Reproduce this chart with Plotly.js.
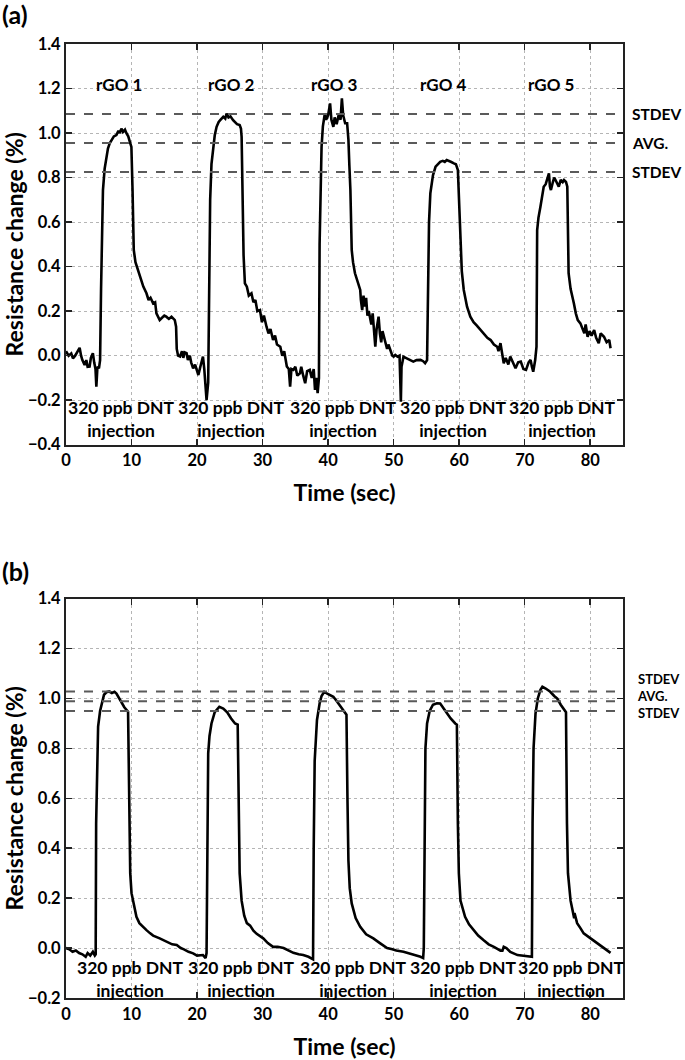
<!DOCTYPE html>
<html>
<head>
<meta charset="utf-8">
<script src="https://cdn.plot.ly/plotly-3.0.1.min.js"></script>
<style>
html,body{margin:0;padding:0;background:#fff;}
#chart{width:685px;height:1060px;}
</style>
</head>
<body>
<div id="chart"></div>
<script>
// ---------- Panel (a): rGO sensors 1-5 ----------
const timeA = [0,0.4,0.8,1.06,1.4,1.7,2.08,2.3,2.5,2.84,3.1,3.3,3.6,3.8,4.1,4.3,4.5,4.63,4.8,5.03,5.2,
5.35,5.5,5.64,5.9,6.16,6.4,6.67,7.0,7.3,7.69,8.0,8.2,8.45,8.7,9.0,9.22,9.5,9.8,9.98,
10.15,10.34,10.6,11.0,11.4,11.8,12.28,12.6,12.9,13.3,13.6,13.8,14.3,14.6,15.0,15.3,15.7,16.1,16.6,16.8,16.9,
17.1,17.4,17.7,17.9,18.1,18.4,18.6,18.9,19.1,19.4,19.7,20.0,20.2,20.5,20.9,21.1,21.45,21.7,
21.85,22.0,22.2,22.46,22.7,22.98,23.3,23.6,24.0,24.3,24.5,24.8,25.1,25.5,25.8,26.1,26.5,26.7,26.8,
26.95,27.1,27.3,27.6,27.9,28.3,28.6,28.9,29.2,29.6,29.9,30.2,30.6,30.9,31.2,31.6,31.9,32.2,32.7,33.0,33.3,33.7,34.0,34.2,34.4,34.7,35.0,35.3,35.7,35.9,36.2,36.5,36.8,37.2,37.5,37.8,38.0,38.2,38.4,38.6,
38.7,38.85,39.0,39.2,39.5,39.7,40.0,40.3,40.5,40.8,41.0,41.3,41.6,41.9,42.1,42.3,42.6,42.9,43.1,43.25,43.4,43.6,43.8,44.1,44.5,44.9,45.0,45.2,45.4,45.6,45.8,46.0,46.2,46.4,46.6,46.8,47.0,47.2,47.4,47.7,47.9,48.1,48.3,48.5,48.8,49.0,49.2,49.5,49.8,50.0,50.25,50.6,50.9,51.0,51.1,51.2,51.5,52.0,52.5,53.0,53.5,54.1,54.5,54.8,55.1,
55.25,55.4,55.6,56.0,56.4,56.7,57.1,57.5,57.8,58.1,58.5,58.8,59.2,59.5,59.8,60.1,60.4,60.7,61.2,61.7,62.2,62.7,63.3,63.8,64.3,64.8,65.3,65.8,66.0,66.3,66.6,66.8,67.1,67.5,67.8,68.2,68.6,69.0,69.4,69.8,70.2,70.6,70.9,71.1,71.3,71.6,71.8,
71.9,72.1,72.4,72.7,72.9,73.2,73.5,73.7,73.85,74.0,74.3,74.5,74.7,75.0,75.2,75.5,75.8,76.0,76.3,76.5,76.6,76.7,77.0,77.3,77.5,77.8,78.1,78.5,78.8,79.1,79.3,79.6,79.9,80.2,80.6,80.9,81.3,81.6,82.1,82.5,82.9,83.1];
const respA = [0.02,0.0,0.01,-0.012,0.0,0.015,0.035,0.0,-0.02,-0.042,-0.02,-0.05,-0.049,-0.01,0.011,-0.03,-0.06,-0.139,-0.05,-0.057,-0.02,
0.3,0.6,0.744,0.84,0.894,0.93,0.954,0.97,0.985,0.991,1.01,1.0,1.02,1.005,1.015,0.999,0.985,0.955,0.938,
0.75,0.475,0.42,0.385,0.34,0.31,0.28,0.25,0.26,0.235,0.24,0.19,0.16,0.17,0.18,0.175,0.165,0.175,0.16,0.13,0.03,
0.0,-0.004,0.02,-0.01,0.015,0.011,-0.02,0.0,-0.03,-0.057,-0.04,-0.07,-0.087,-0.05,-0.004,-0.06,-0.2,-0.12,
0.3,0.7,0.86,0.938,0.99,1.028,1.05,1.06,1.073,1.065,1.088,1.07,1.075,1.058,1.05,1.04,1.036,1.02,0.983,
0.7,0.45,0.325,0.31,0.27,0.28,0.24,0.25,0.2,0.205,0.15,0.18,0.13,0.1,0.12,0.07,0.09,0.05,0.04,0.0,0.02,-0.049,-0.06,-0.139,-0.06,-0.064,-0.05,-0.09,-0.079,-0.05,-0.09,-0.124,-0.07,-0.064,-0.1,-0.06,-0.154,-0.1,-0.169,-0.1,
0.5,0.85,0.938,1.03,1.088,1.06,1.08,1.133,1.06,1.028,1.07,1.04,1.08,1.06,1.156,1.08,1.044,1.044,0.969,0.85,0.744,0.475,0.42,0.37,0.33,0.295,0.25,0.205,0.27,0.22,0.26,0.18,0.2,0.175,0.14,0.19,0.1,0.04,0.12,0.175,0.1,0.06,0.11,0.085,0.06,0.03,0.05,0.026,0.0,-0.004,0.003,-0.005,0.0,-0.1,-0.207,-0.05,-0.005,-0.012,-0.02,-0.027,-0.02,-0.019,-0.025,-0.034,-0.02,
0.3,0.6,0.729,0.81,0.849,0.86,0.871,0.875,0.87,0.879,0.875,0.87,0.864,0.86,0.834,0.595,0.38,0.295,0.22,0.175,0.15,0.135,0.115,0.1,0.08,0.07,0.05,0.04,0.02,0.056,0.0,-0.034,-0.01,-0.04,-0.004,-0.03,-0.057,-0.03,-0.027,-0.06,-0.064,-0.03,-0.019,-0.05,-0.072,-0.02,0.04,
0.564,0.62,0.669,0.72,0.759,0.77,0.8,0.819,0.76,0.744,0.78,0.8,0.789,0.77,0.759,0.79,0.78,0.789,0.78,0.759,0.6,0.37,0.3,0.25,0.235,0.19,0.16,0.145,0.12,0.1,0.14,0.085,0.11,0.09,0.115,0.08,0.056,0.1,0.085,0.06,0.07,0.033];
const refLinesA = [1.085, 0.955, 0.825];
const refLabelsA = ["STDEV", "AVG.", "STDEV"];
const sensorLabels = ["rGO 1", "rGO 2", "rGO 3", "rGO 4", "rGO 5"];
const sensorLabelX = [8.05, 25.3, 41.0, 57.6, 74.0];
const injectionXA = [8.45, 25.25, 42.3, 59.2, 75.7];

// ---------- Panel (b) ----------
const timeB = [0,0.5,1.0,1.5,2.0,2.5,3.0,3.3,3.7,4.1,4.4,4.53,
4.6,4.75,4.9,5.2,5.5,5.8,6.16,6.6,7.0,7.4,7.7,8.1,8.5,8.9,9.47,
9.6,9.7,9.8,10.0,10.4,10.75,11.2,11.7,12.28,12.8,13.3,14.3,15.0,15.6,16.2,16.9,17.5,18.0,18.7,19.4,20.0,20.9,21.3,
21.45,21.55,21.7,21.9,22.2,22.7,23.4,24.0,24.6,25.2,25.8,26.2,
26.35,26.5,26.8,27.2,27.6,28.1,28.6,29.1,30.1,30.8,31.6,32.3,33.2,34.0,34.7,35.5,36.2,37.0,37.5,37.7,
37.8,37.95,38.3,38.7,39.0,39.4,39.8,40.3,40.8,41.3,41.8,42.2,42.6,42.8,
42.95,43.1,43.3,43.6,44.2,44.9,45.8,46.9,47.9,49.0,49.8,50.4,51.5,52.3,53.2,54.1,54.5,
54.6,54.7,54.85,55.1,55.5,56.0,56.6,57.1,57.6,58.1,58.7,59.4,59.65,
59.8,59.95,60.2,60.9,61.5,62.2,62.9,63.7,64.5,65.3,66.3,66.6,66.8,67.2,67.8,68.9,70.0,70.9,71.1,
71.2,71.35,71.65,72.0,72.4,72.7,73.2,73.9,74.5,74.97,75.5,76.1,76.3,
76.45,76.6,77.0,77.4,77.55,77.6,78.0,78.5,79.0,80.0,81.1,82.0,83.1];
const respB = [0.0,-0.005,-0.015,-0.01,-0.02,-0.025,-0.035,-0.02,-0.03,-0.015,-0.03,-0.025,
0.5,0.8,0.887,0.95,0.99,1.015,1.025,1.028,1.022,1.027,1.02,1.0,0.98,0.965,0.947,
0.7,0.4,0.3,0.22,0.16,0.125,0.1,0.085,0.072,0.06,0.05,0.039,0.03,0.025,0.015,0.012,0.0,-0.005,-0.015,-0.021,-0.03,-0.028,-0.04,
-0.02,0.5,0.78,0.85,0.9,0.945,0.967,0.96,0.945,0.92,0.9,0.895,
0.5,0.3,0.19,0.13,0.1,0.09,0.07,0.057,0.039,0.02,0.005,0.005,0.0,-0.01,-0.019,-0.025,-0.028,-0.035,-0.041,-0.045,
0.4,0.75,0.914,0.98,1.01,1.027,1.02,1.015,1.007,0.99,0.97,0.955,0.943,0.935,
0.6,0.35,0.24,0.179,0.12,0.085,0.055,0.039,0.02,0.0,-0.005,-0.01,-0.015,-0.02,-0.028,-0.035,-0.04,
0.0,0.5,0.8,0.9,0.95,0.975,0.981,0.98,0.96,0.94,0.92,0.9,0.895,
0.5,0.3,0.19,0.125,0.095,0.072,0.05,0.032,0.015,0.005,-0.01,-0.01,0.005,0.0,-0.015,-0.028,-0.03,-0.032,-0.035,
0.5,0.8,0.94,1.0,1.035,1.047,1.04,1.027,1.01,1.0,0.975,0.951,0.945,
0.5,0.3,0.19,0.145,0.12,0.14,0.1,0.08,0.059,0.04,0.019,0.0,-0.019];
const refLinesB = [1.028, 0.989, 0.950];
const refLabelsB = ["STDEV", "AVG.", "STDEV"];
const injectionXB = [9.8, 26.8, 43.9, 60.6, 77.1];
const injectionText = "320 ppb DNT<br>injection";
const timeSpan = [0, 85];

const FONT = "Lato, 'Open Sans', sans-serif";
const traces = [];
traces.push({x: timeA, y: respA, xaxis: 'x', yaxis: 'y', mode: 'lines',
  line: {color: '#000', width: 2.6}, showlegend: false, hoverinfo: 'skip'});
refLinesA.forEach(v => traces.push({x: timeSpan, y: [v, v], xaxis: 'x', yaxis: 'y', mode: 'lines',
  line: {color: '#5a5a5a', width: 2, dash: 'dash'}, showlegend: false, hoverinfo: 'skip'}));
traces.push({x: timeB, y: respB, xaxis: 'x2', yaxis: 'y2', mode: 'lines',
  line: {color: '#000', width: 2.6}, showlegend: false, hoverinfo: 'skip'});
refLinesB.forEach(v => traces.push({x: timeSpan, y: [v, v], xaxis: 'x2', yaxis: 'y2', mode: 'lines',
  line: {color: '#5a5a5a', width: 2, dash: 'dash'}, showlegend: false, hoverinfo: 'skip'}));

const tickFont = {family: FONT, size: 16.5, color: '#000', weight: 'bold'};
const titleFont = {family: FONT, size: 23, color: '#000', weight: 'bold'};
function xax(anchor, standoff) {
  return {anchor: anchor, domain: [0, 1], range: timeSpan,
    tickvals: [0,10,20,30,40,50,60,70,80],
    showline: true, linecolor: '#222', linewidth: 2, mirror: 'ticks', ticks: 'inside', ticklen: 6,
    tickcolor: '#222', tickwidth: 1.5, showgrid: true, gridcolor: '#b5b5b5', griddash: 'dot', gridwidth: 1,
    zeroline: false, tickfont: tickFont,
    title: {text: 'Time (sec)', font: titleFont, standoff: standoff}};
}
function yax(anchor, domain, range, tv) {
  return {anchor: anchor, domain: domain, range: range, tickvals: tv, tickformat: '.1f',
    showline: true, linecolor: '#222', linewidth: 2, mirror: 'ticks', ticks: 'inside', ticklen: 6,
    tickcolor: '#222', tickwidth: 1.5, showgrid: true, gridcolor: '#b5b5b5', griddash: 'dot', gridwidth: 1,
    zeroline: false, tickfont: tickFont,
    title: {text: 'Resistance change (%)', font: titleFont, standoff: 3}};
}

const annotations = [];
const annFont = {family: FONT, size: 17.5, color: '#000', weight: 'bold'};
sensorLabels.forEach((t, i) => annotations.push({xref: 'x', yref: 'y', x: sensorLabelX[i], y: 1.22,
  text: t, showarrow: false, font: {family: FONT, size: 17, color: '#000', weight: 'bold'}, xanchor: 'center', yanchor: 'middle'}));
injectionXA.forEach(x => annotations.push({xref: 'x', yref: 'y', x: x, y: -0.284, text: injectionText,
  showarrow: false, font: annFont, xanchor: 'center', yanchor: 'middle'}));
injectionXB.forEach(x => annotations.push({xref: 'x2', yref: 'y2', x: x, y: -0.122, text: injectionText,
  showarrow: false, font: annFont, xanchor: 'center', yanchor: 'middle'}));
refLinesA.forEach((v, i) => annotations.push({xref: 'x domain', yref: 'y', x: 1.013, y: v, text: refLabelsA[i],
  showarrow: false, font: {family: FONT, size: 15.5, color: '#000', weight: 'bold'}, xanchor: 'left', yanchor: 'middle'}));
annotations.push({xref: 'x2 domain', yref: 'y2', x: 1.022, y: refLinesB[1] + 0.022, text: refLabelsB.join('<br>'),
  showarrow: false, font: {family: FONT, size: 13, color: '#000', weight: 'bold'}, align: 'left',
  xanchor: 'left', yanchor: 'middle'});
annotations.push({xref: 'paper', yref: 'paper', x: -0.119, y: 1.031, text: '(a)', showarrow: false,
  font: {family: FONT, size: 25, color: '#000', weight: 'bold'}, xanchor: 'left', yanchor: 'middle'});
annotations.push({xref: 'paper', yref: 'paper', x: -0.119, y: 0.448, text: '(b)', showarrow: false,
  font: {family: FONT, size: 25, color: '#000', weight: 'bold'}, xanchor: 'left', yanchor: 'middle'});

const layout = {
  width: 685, height: 1060,
  margin: {l: 66, r: 62, t: 44, b: 62},
  paper_bgcolor: '#fff', plot_bgcolor: '#fff',
  font: {family: FONT, color: '#000'},
  showlegend: false,
  xaxis: xax('y', 15),
  yaxis: yax('x', [0.58, 1.0], [-0.4, 1.4], [-0.4,-0.2,0,0.2,0.4,0.6,0.8,1.0,1.2,1.4]),
  xaxis2: xax('y2', 19),
  yaxis2: yax('x2', [0, 0.4186], [-0.2, 1.4], [-0.2,0,0.2,0.4,0.6,0.8,1.0,1.2,1.4]),
  annotations: annotations
};
Plotly.newPlot('chart', traces, layout, {staticPlot: true, displayModeBar: false});
</script>
</body>
</html>
